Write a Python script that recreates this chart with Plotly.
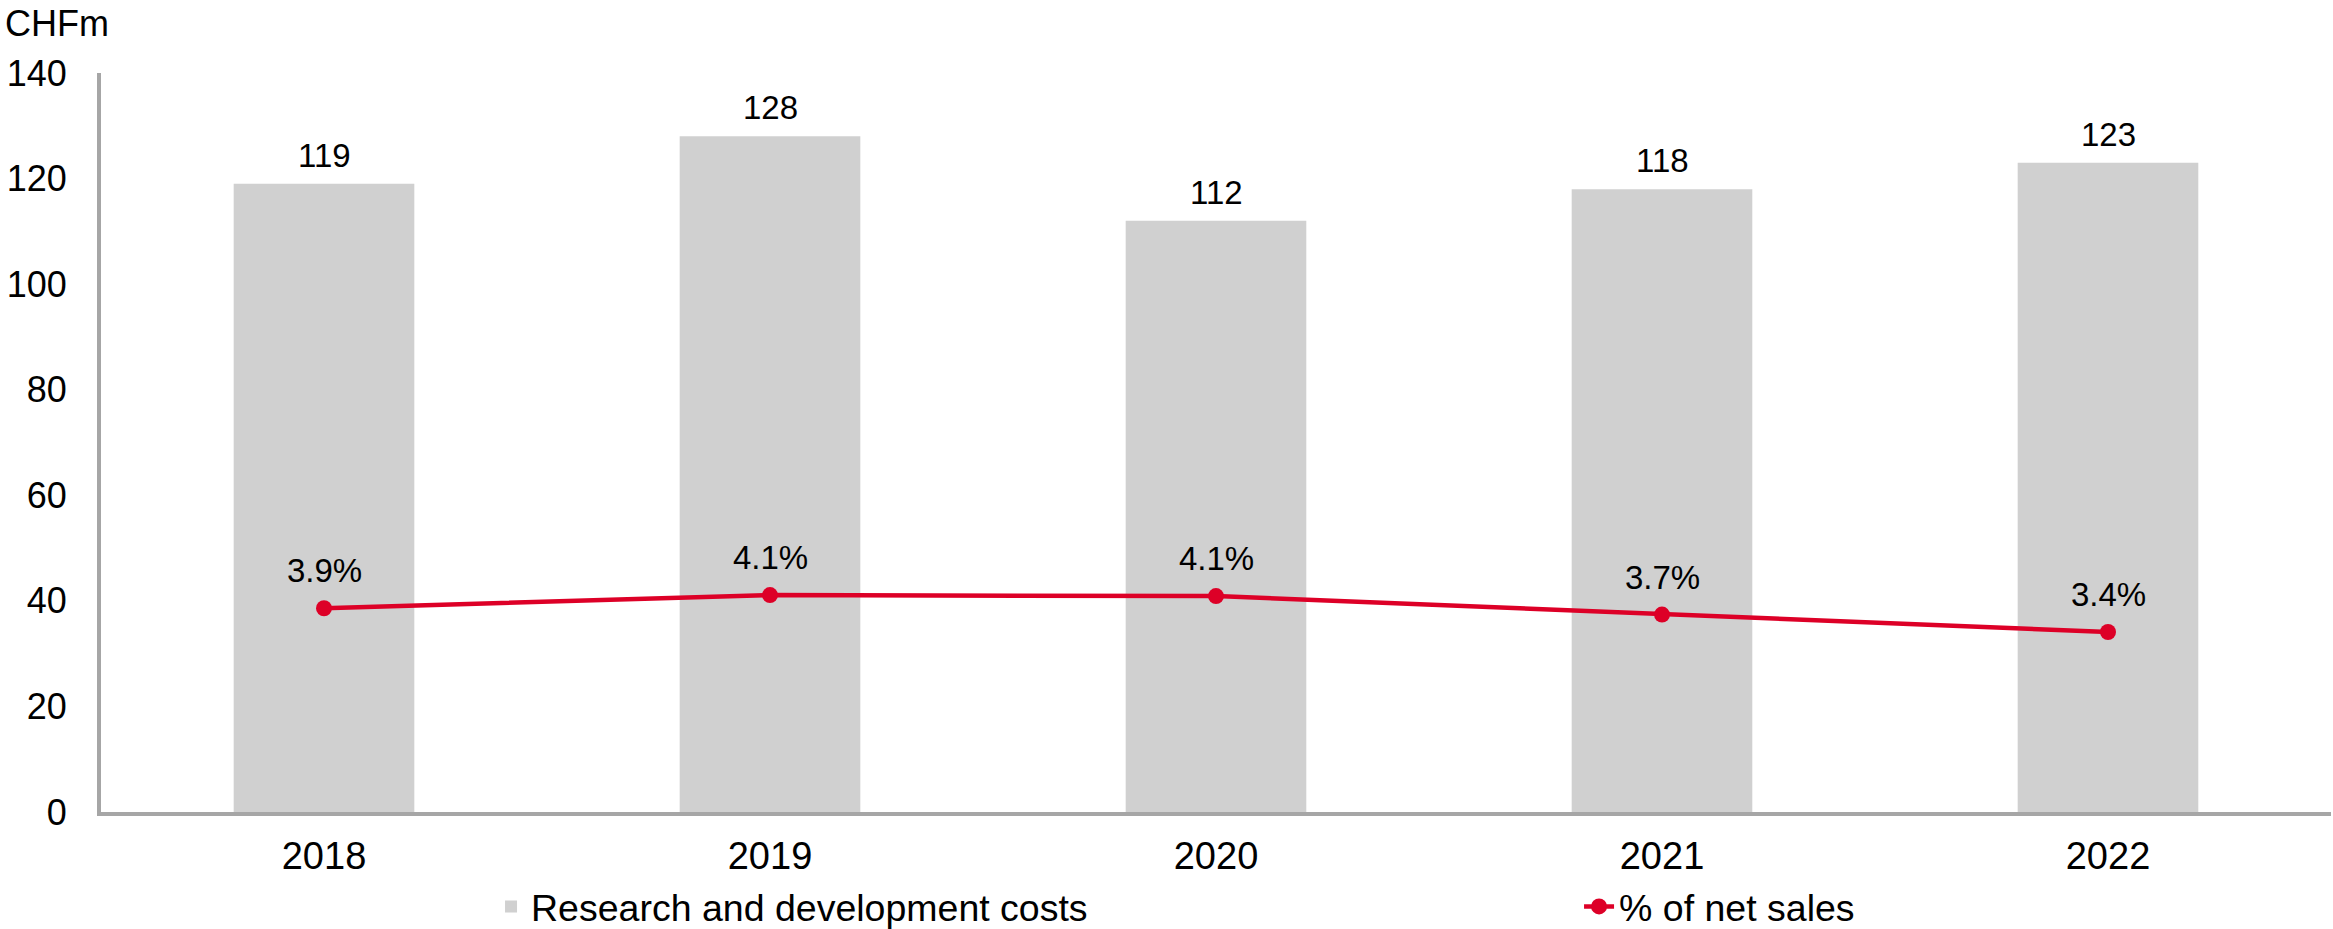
import plotly.graph_objects as go

years = ["2018", "2019", "2020", "2021", "2022"]
rd_costs = [119, 128, 112, 118, 123]
pct_sales = [3.86, 4.11, 4.09, 3.74, 3.41]
y_ticks = [0, 20, 40, 60, 80, 100, 120, 140]

FONT = "Arial, Liberation Sans, sans-serif"
BAR_COLOR = "#D0D0D0"
RED = "#DD0027"
AXIS = "#A6A6A6"

fig = go.Figure()
fig.add_trace(go.Bar(
    x=years, y=rd_costs, name="Research and development costs",
    marker=dict(color=BAR_COLOR, line=dict(width=0)),
    width=0.405, legend="legend",
))
fig.add_trace(go.Scatter(
    x=years, y=pct_sales, name="% of net sales", yaxis="y2",
    mode="lines+markers",
    line=dict(color=RED, width=4.5),
    marker=dict(color=RED, size=16),
    cliponaxis=False, legend="legend2",
))

annotations = []
# category axis: annotation x given as the category's serial index
for i, v in enumerate(rd_costs):
    annotations.append(dict(
        x=i, y=v, xref="x", yref="y", text=str(v), showarrow=False,
        yanchor="bottom", yshift=8,
        font=dict(family=FONT, size=33, color="black"),
    ))
for i, p in enumerate(pct_sales):
    annotations.append(dict(
        x=i, y=p, xref="x", yref="y2", text=f"{p:.1f}%", showarrow=False,
        yanchor="bottom", yshift=17,
        font=dict(family=FONT, size=33, color="black"),
    ))
annotations.append(dict(
    text="CHFm", xref="paper", yref="paper", x=-0.0438, y=1.098,
    xanchor="left", yanchor="top", showarrow=False,
    font=dict(family=FONT, size=36, color="black"),
))

legend_common = dict(
    orientation="h", xanchor="left", yanchor="middle", y=-0.128,
    font=dict(family=FONT, size=37.5, color="black"),
    bgcolor="rgba(0,0,0,0)",
)

fig.update_layout(
    width=2333, height=929,
    margin=dict(l=101, r=2, t=73, b=117, autoexpand=False),
    paper_bgcolor="white", plot_bgcolor="white",
    font=dict(family=FONT, size=37, color="black"),
    showlegend=True,
    legend=dict(x=0.1749, **legend_common),
    legend2=dict(x=0.6628, **legend_common),
    xaxis=dict(
        type="category", range=[-0.5, len(years) - 0.5],
        showline=True, linecolor=AXIS, linewidth=4, showgrid=False,
        ticks="", tickfont=dict(family=FONT, size=38, color="black"),
        ticklabelstandoff=7,
    ),
    yaxis=dict(
        range=[0, 140], tickvals=y_ticks, showline=True, linecolor=AXIS,
        linewidth=4, showgrid=False, zeroline=False, ticks="",
        tickfont=dict(family=FONT, size=36, color="black"),
        ticklabelstandoff=23,
    ),
    yaxis2=dict(range=[0, 14], overlaying="y", visible=False),
    annotations=annotations,
)

fig.write_html(
    "out.html",
    config={"displayModeBar": False},
    post_script="document.body.style.margin='0px';",
)
